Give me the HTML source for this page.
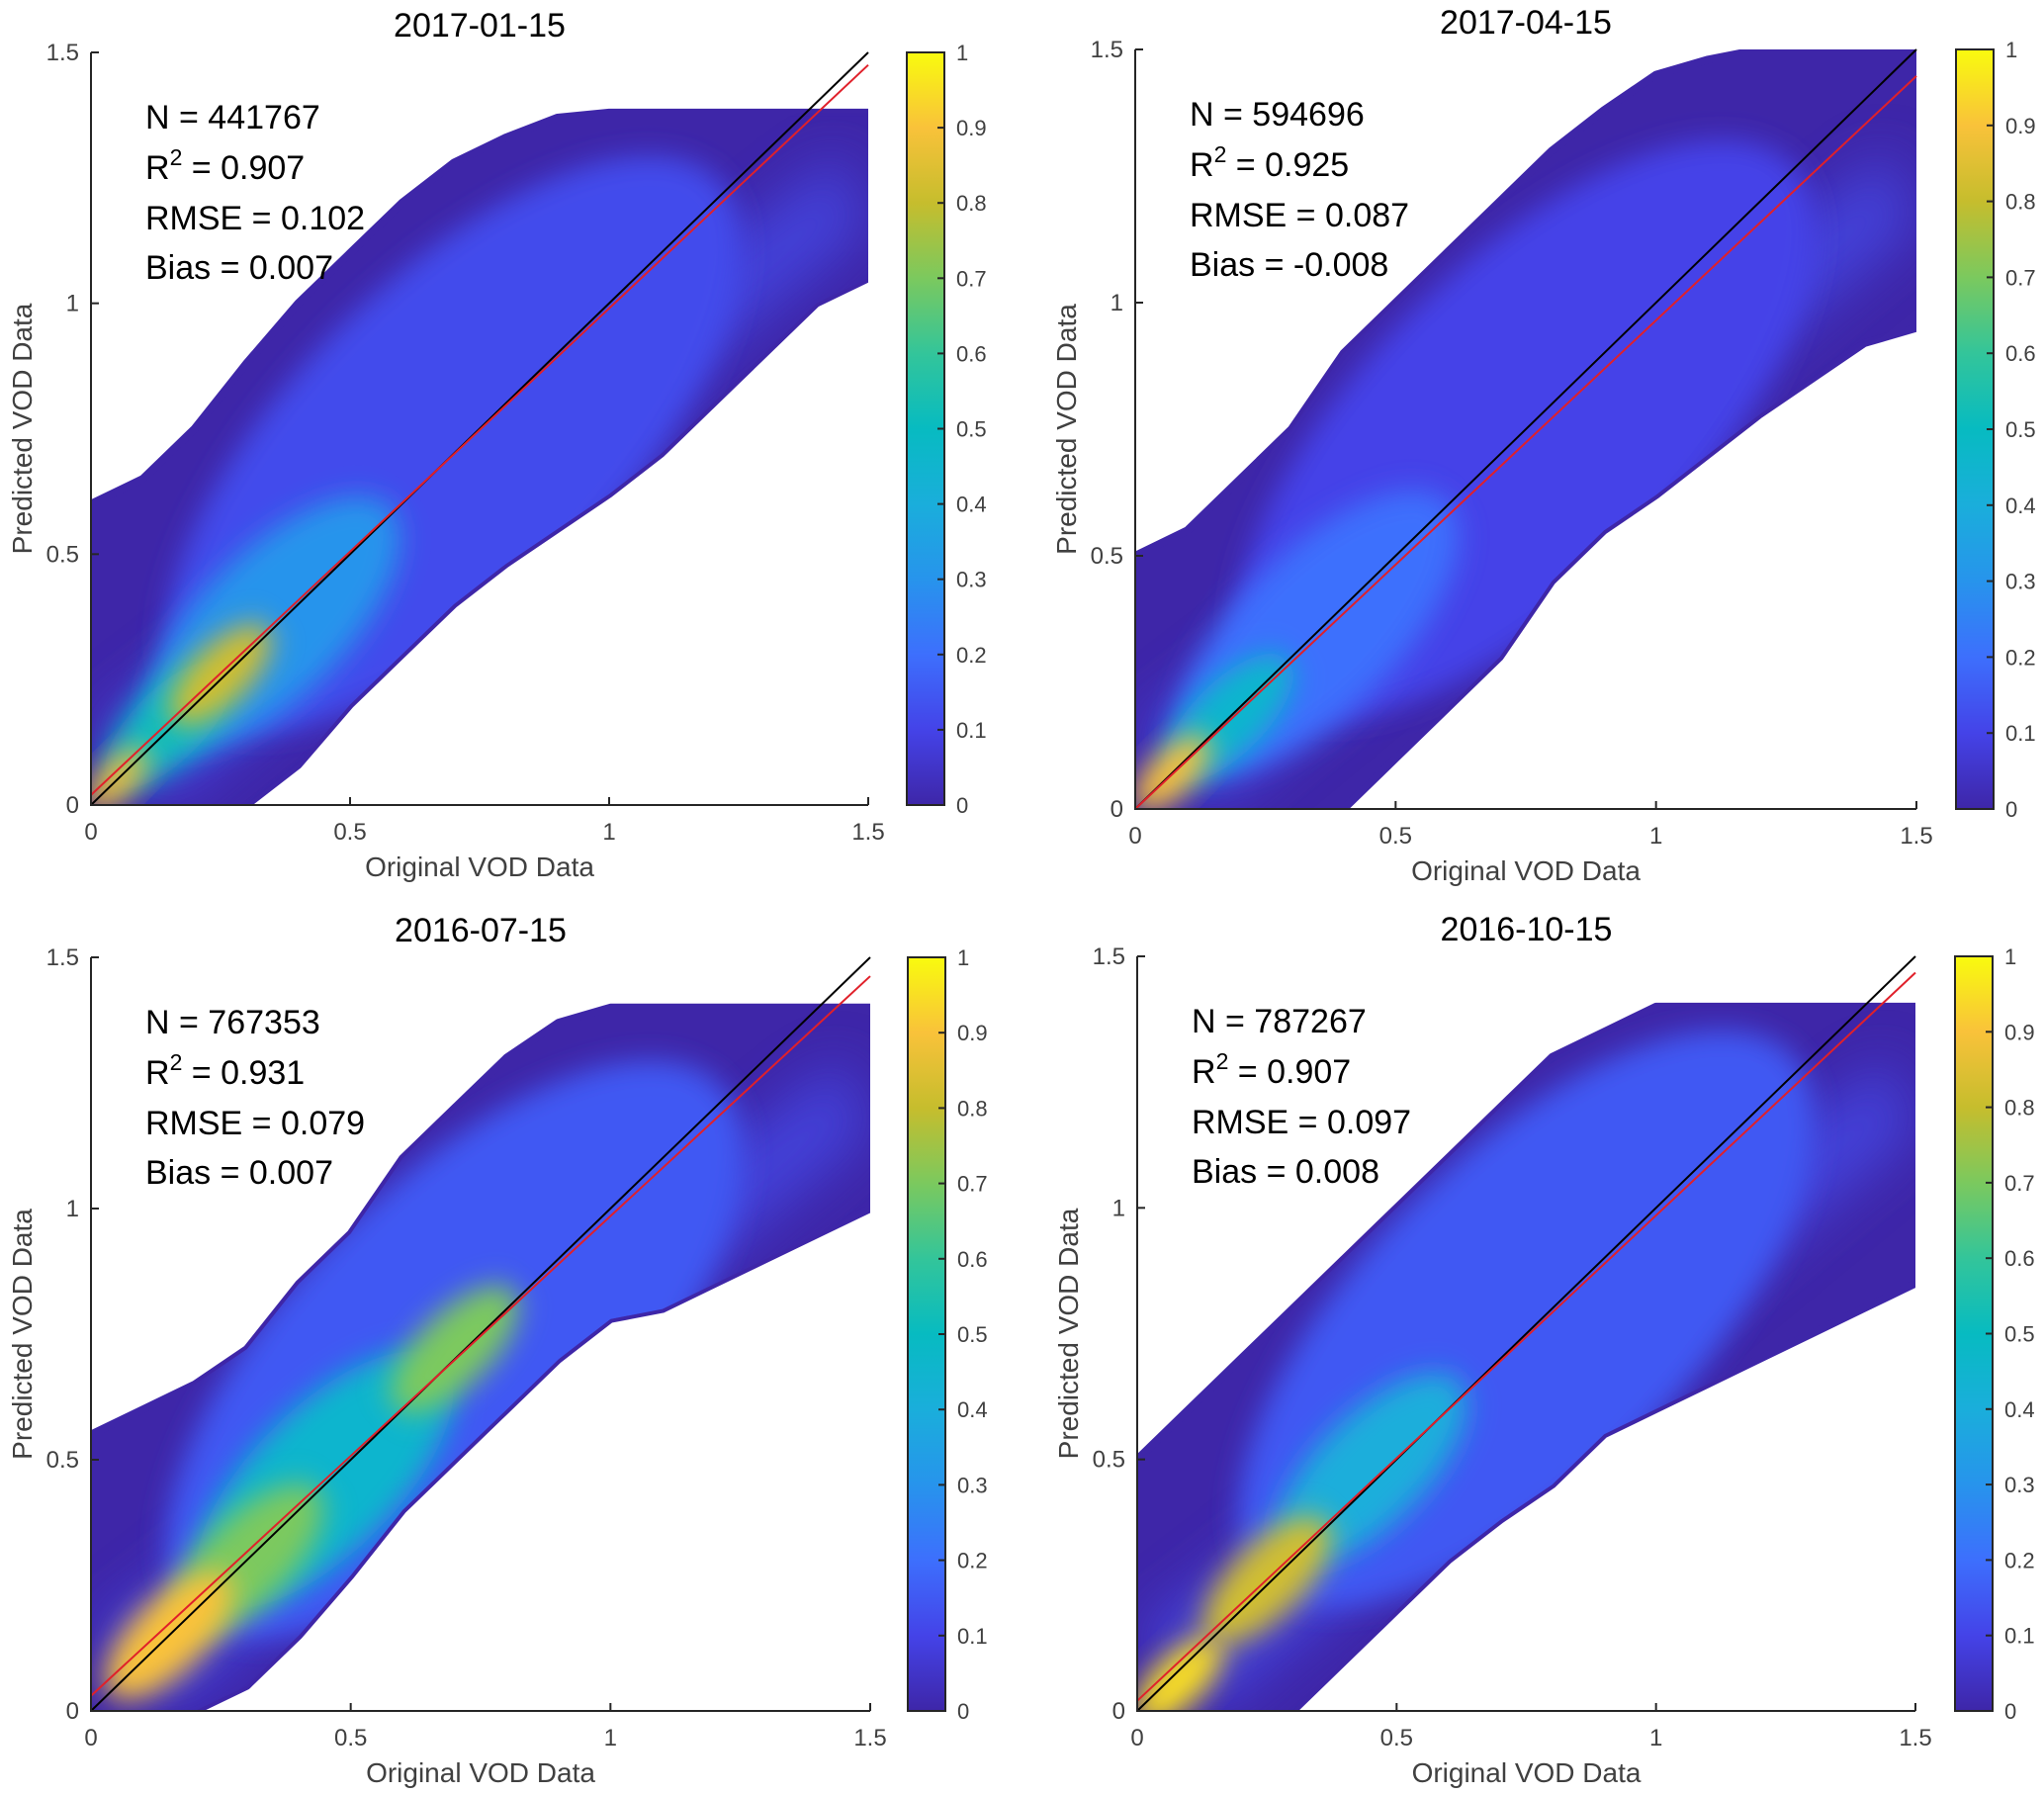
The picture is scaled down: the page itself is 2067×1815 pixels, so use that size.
<!DOCTYPE html>
<html><head><meta charset="utf-8"><style>
html,body{margin:0;padding:0;background:#fff}
svg{display:block}
text{font-family:"Liberation Sans",sans-serif}
</style></head><body>
<svg id="fig" width="2067" height="1815" viewBox="0 0 2067 1815" xmlns="http://www.w3.org/2000/svg">
<defs>
<linearGradient id="parula" x1="0" y1="1" x2="0" y2="0">
<stop offset="0" stop-color="#3e26a8"/><stop offset="0.1" stop-color="#4443e8"/><stop offset="0.2" stop-color="#3d6ffd"/><stop offset="0.3" stop-color="#2794ec"/><stop offset="0.4" stop-color="#1aaedb"/><stop offset="0.5" stop-color="#07bbc1"/><stop offset="0.6" stop-color="#33c59a"/><stop offset="0.7" stop-color="#7bc95e"/><stop offset="0.8" stop-color="#c6bd2d"/><stop offset="0.9" stop-color="#f9c23a"/><stop offset="1" stop-color="#f9fb0e"/>
</linearGradient>
<filter id="blur1" x="-50%" y="-50%" width="200%" height="200%"><feGaussianBlur stdDeviation="14"/></filter>
<filter id="blur2" x="-50%" y="-50%" width="200%" height="200%"><feGaussianBlur stdDeviation="28"/></filter>
</defs>
</svg>
<script>
// ---- data ----
const titles = ["2017-01-15","2017-04-15","2016-07-15","2016-10-15"];
const statN = ["441767","594696","767353","787267"];
const statR2 = ["0.907","0.925","0.931","0.907"];
const statRMSE = ["0.102","0.087","0.079","0.097"];
const statBias = ["0.007","-0.008","0.007","0.008"];
const bandX = [0,0.1,0.2,0.3,0.4,0.5,0.6,0.7,0.8,0.9,1.0,1.1,1.2,1.3,1.4,1.5];
const upper1 = [0.6,0.65,0.75,0.88,1.0,1.1,1.2,1.28,1.33,1.37,1.38,1.38,1.38,1.38,1.38,1.38];
const lower1 = [0,0,0,0,0.08,0.2,0.3,0.4,0.48,0.55,0.62,0.7,0.8,0.9,1.0,1.05];
const upper2 = [0.5,0.55,0.65,0.75,0.9,1.0,1.1,1.2,1.3,1.38,1.45,1.48,1.5,1.5,1.5,1.5];
const lower2 = [0,0,0,0,0,0.1,0.2,0.3,0.45,0.55,0.62,0.7,0.78,0.85,0.92,0.95];
const upper3 = [0.55,0.6,0.65,0.72,0.85,0.95,1.1,1.2,1.3,1.37,1.4,1.4,1.4,1.4,1.4,1.4];
const lower3 = [0,0,0,0.05,0.15,0.27,0.4,0.5,0.6,0.7,0.78,0.8,0.85,0.9,0.95,1.0];
const upper4 = [0.5,0.6,0.7,0.8,0.9,1.0,1.1,1.2,1.3,1.35,1.4,1.4,1.4,1.4,1.4,1.4];
const lower4 = [0,0,0,0,0.1,0.2,0.3,0.38,0.45,0.55,0.6,0.65,0.7,0.75,0.8,0.85];
// hotspots: x, y, density, radius (data units)
const hot1X = [0.7,0.35,0.15,0.25,0.05];
const hot1Y = [0.72,0.36,0.16,0.26,0.05];
const hot1D = [0.12,0.3,0.5,0.82,0.88];
const hot1R = [0.45,0.2,0.1,0.08,0.05];
const hot2X = [0.75,0.35,0.18,0.07];
const hot2Y = [0.75,0.35,0.18,0.07];
const hot2D = [0.1,0.2,0.45,0.9];
const hot2R = [0.45,0.22,0.1,0.06];
const hot3X = [0.7,0.45,0.7,0.3,0.15];
const hot3Y = [0.72,0.46,0.72,0.3,0.15];
const hot3D = [0.15,0.45,0.7,0.7,0.9];
const hot3R = [0.45,0.2,0.1,0.12,0.1];
const hot4X = [0.75,0.45,0.25,0.08];
const hot4Y = [0.78,0.48,0.26,0.06];
const hot4D = [0.15,0.4,0.82,0.95];
const hot4R = [0.45,0.15,0.1,0.07];
const fitSlope = [0.97,0.965,0.955,0.965];
const fitIntercept = [0.02,0.0,0.03,0.02];
const axisTicks = [0,0.5,1,1.5];
const axisTickLabels = ["0","0.5","1","1.5"];
const cbTicks = [0,0.1,0.2,0.3,0.4,0.5,0.6,0.7,0.8,0.9,1];
const cbTickLabels = ["0","0.1","0.2","0.3","0.4","0.5","0.6","0.7","0.8","0.9","1"];

const layout = [
 {x0:92,x1:878,y0:814,y1:53,cb:917},
 {x0:1148,x1:1938,y0:818,y1:50,cb:1978},
 {x0:92,x1:880,y0:1730,y1:968,cb:918},
 {x0:1150,x1:1937,y0:1730,y1:967,cb:1977}
];
const uppers=[upper1,upper2,upper3,upper4], lowers=[lower1,lower2,lower3,lower4];
const hots=[[hot1X,hot1Y,hot1D,hot1R],[hot2X,hot2Y,hot2D,hot2R],[hot3X,hot3Y,hot3D,hot3R],[hot4X,hot4Y,hot4D,hot4R]];
const pc=[[0,[62,38,168]],[0.1,[68,67,232]],[0.2,[61,111,253]],[0.3,[39,148,236]],[0.4,[26,174,219]],[0.5,[7,187,193]],[0.6,[51,197,154]],[0.7,[123,201,94]],[0.8,[198,189,45]],[0.9,[249,194,58]],[1,[249,251,14]]];
function parula(v){for(let i=1;i<pc.length;i++){if(v<=pc[i][0]){const a=pc[i-1],b=pc[i],t=(v-a[0])/(b[0]-a[0]);return 'rgb('+a[1].map((c,k)=>Math.round(c+(b[1][k]-c)*t)).join(',')+')';}}return 'rgb(249,251,14)';}
const NS="http://www.w3.org/2000/svg", svg=document.getElementById('fig');
function mk(tag,at,parent){const e=document.createElementNS(NS,tag);for(const k in at)e.setAttribute(k,at[k]);(parent||svg).appendChild(e);return e;}

layout.forEach((L,p)=>{
 const sx=v=>L.x0+(L.x1-L.x0)*v/1.5, sy=v=>L.y0-(L.y0-L.y1)*v/1.5;
 const g=mk('g',{});
 
 
 const clipId='clip'+p;
 const cp=mk('clipPath',{id:clipId},g);
 mk('rect',{x:L.x0,y:L.y1,width:L.x1-L.x0,height:L.y0-L.y1},cp);
 const dg=mk('g',{'clip-path':'url(#'+clipId+')'},g);
 // band
 let pts=bandX.map((x,i)=>sx(x)+','+sy(uppers[p][i]));
 for(let i=bandX.length-1;i>=0;i--)pts.push(sx(bandX[i])+','+sy(lowers[p][i]));
 const band=mk('polygon',{points:pts.join(' '),fill:'#3e26a8',stroke:'#3e26a8','stroke-width':8,'stroke-linejoin':'round'},dg);
 
 
 const bclip=mk('clipPath',{id:'bclip'+p},g);
 mk('polygon',{points:pts.join(' ')},bclip);
 const hg=mk('g',{'clip-path':'url(#bclip'+p+')'},dg);
 // lighter core along diagonal
 const core=mk('polygon',{points:[[0,0.15],[1.45,1.3],[1.5,1.15],[0.15,0]].map(q=>sx(q[0])+','+sy(q[1])).join(' '),fill:'#4548e6',opacity:0.8,filter:'url(#blur2)'},hg);
 
 
 const H=hots[p];
 H[0].forEach((x,i)=>{
  const cx=sx(x),cy=sy(H[1][i]),r=H[3][i]*(L.x1-L.x0)/1.5;
  const e=mk('ellipse',{cx:cx,cy:cy,rx:r*1.6,ry:r*0.7,fill:parula(H[2][i]),transform:'rotate(-45 '+cx+' '+cy+')',filter:'url(#blur1)'},hg);
  
  
 });
 // lines
 const l1=mk('line',{x1:sx(0),y1:sy(0),x2:sx(1.5),y2:sy(1.5),stroke:'#000','stroke-width':2},g);
 
 
 const l2=mk('line',{x1:sx(0),y1:sy(fitIntercept[p]),x2:sx(1.5),y2:sy(fitIntercept[p]+1.5*fitSlope[p]),stroke:'#e0202a','stroke-width':2},g);
 
 
 // axes
 const ax=mk('path',{d:'M'+L.x0+','+L.y1+' V'+L.y0+' H'+L.x1,fill:'none',stroke:'#262626','stroke-width':2},g);
 
 
 axisTicks.forEach((t,i)=>{
  mk('line',{x1:sx(t),y1:L.y0,x2:sx(t),y2:L.y0-8,stroke:'#262626','stroke-width':2},g);
  mk('line',{x1:L.x0,y1:sy(t),x2:L.x0+8,y2:sy(t),stroke:'#262626','stroke-width':2},g);
  const xl=mk('text',{x:sx(t),y:L.y0+35,'font-size':24,fill:'#404040','text-anchor':'middle'},g);xl.textContent=axisTickLabels[i];
  
  
  const yl=mk('text',{x:L.x0-12,y:sy(t)+8,'font-size':24,fill:'#404040','text-anchor':'end'},g);yl.textContent=axisTickLabels[i];
  
  
 });
 const xt=mk('text',{x:(L.x0+L.x1)/2,y:L.y0+72,'font-size':28,fill:'#404040','text-anchor':'middle'},g);xt.textContent='Original VOD Data';
 
 
 const yc=(L.y0+L.y1)/2;
 const yt=mk('text',{x:L.x0-60,y:yc,'font-size':28,fill:'#404040','text-anchor':'middle',transform:'rotate(-90 '+(L.x0-60)+' '+yc+')'},g);
 yt.textContent='Predicted VOD Data';
 
 
 const ti=mk('text',{x:(L.x0+L.x1)/2,y:L.y1-16,'font-size':34,fill:'#000','text-anchor':'middle'},g);ti.textContent=titles[p];
 
 
 // stats
 const tx=L.x0+55, ty=L.y1+77;
 const s1=mk('text',{x:tx,y:ty,'font-size':34,fill:'#000'},g);s1.textContent='N = '+statN[p];
 
 
 const s2=mk('text',{x:tx,y:ty+51,'font-size':34,fill:'#000'},g);
 s2.innerHTML='R<tspan dy="-14" font-size="23">2</tspan><tspan dy="14"> = '+statR2[p]+'</tspan>';
 
 
 const s3=mk('text',{x:tx,y:ty+102,'font-size':34,fill:'#000'},g);s3.textContent='RMSE = '+statRMSE[p];
 
 
 const s4=mk('text',{x:tx,y:ty+152,'font-size':34,fill:'#000'},g);s4.textContent='Bias = '+statBias[p];
 
 
 // colorbar
 const cb=mk('rect',{x:L.cb,y:L.y1,width:38,height:L.y0-L.y1,fill:'url(#parula)',stroke:'#262626','stroke-width':2},g);
 
 
 cbTicks.forEach((t,i)=>{
  const y=L.y0-(L.y0-L.y1)*t;
  mk('line',{x1:L.cb+38,y1:y,x2:L.cb+31,y2:y,stroke:'#262626','stroke-width':2},g);
  const c=mk('text',{x:L.cb+50,y:y+8,'font-size':22,fill:'#404040'},g);c.textContent=cbTickLabels[i];
  
  
 });
});
</script>
</body></html>
